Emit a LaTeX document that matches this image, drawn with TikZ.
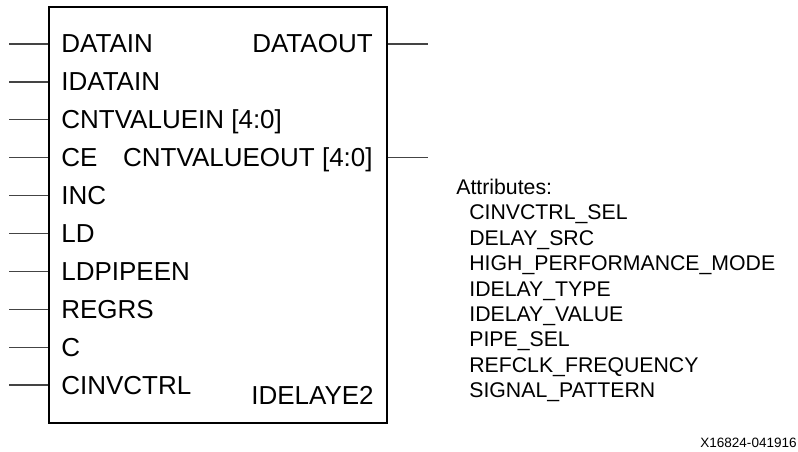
\documentclass[tikz,border=0pt]{standalone}
\usepackage{fontspec}
\setmainfont{Liberation Sans}
\usetikzlibrary{positioning,calc}
\definecolor{wire}{HTML}{444444}

\begin{document}
\begin{tikzpicture}[x=0.02cm,y=-0.02cm,
    pin/.style={wire,line width=0.75pt},
    portlbl/.style={inner sep=0pt,font=\fontsize{14.8}{17}\selectfont},
    attrlbl/.style={inner sep=0pt,anchor=base west,font=\fontsize{12.1}{14}\selectfont}]
  \useasboundingbox (0,0) rectangle (798,452);

  % Block
  \node[draw,line width=1.1pt,minimum width=6.77cm,minimum height=8.31cm,inner sep=0pt]
    (blk) at (217.75,214.85) {};

  % Inputs
  \foreach \nm [count=\i from 0] in {DATAIN,IDATAIN,CNTVALUEIN [4:0],CE,INC,LD,LDPIPEEN,REGRS,C,CINVCTRL} {
    \pgfmathsetmacro{\py}{44+37.9*\i}
    \coordinate (in\i) at (9,\py);
    \draw[pin] (in\i) -- (in\i -| blk.west);
    \node[portlbl,anchor=base west] (inlbl\i) at (61,\py+9) {\nm};
  }

  % Outputs
  \coordinate (dout) at (428,44);
  \coordinate (cntout) at (428,157.7);
  \draw[pin] (blk.east |- dout) -- (dout);
  \draw[pin] (blk.east |- cntout) -- (cntout);
  \node[portlbl,anchor=base east] (doutlbl) at (373,53) {DATAOUT};
  \node[portlbl,anchor=base east] (cntoutlbl) at (373,166.7) {CNTVALUEOUT [4:0]};

  \node[portlbl,anchor=base east] (blkname) at (374,405) {IDELAYE2};

  % Attributes
  \node[attrlbl] (attr) at (456,195) {Attributes:};
  \foreach \nm [count=\i from 0] in {CINVCTRL\_SEL,DELAY\_SRC,HIGH\_PERFORMANCE\_MODE,IDELAY\_TYPE,IDELAY\_VALUE,PIPE\_SEL,REFCLK\_FREQUENCY,SIGNAL\_PATTERN} {
    \node[attrlbl] (attr\i) at (469,220+25.4*\i) {\nm};
  }

  \node[inner sep=0pt,anchor=base east,font=\fontsize{7.7}{9}\selectfont] (fig) at (797,448) {X16824-041916};
\end{tikzpicture}
\end{document}
